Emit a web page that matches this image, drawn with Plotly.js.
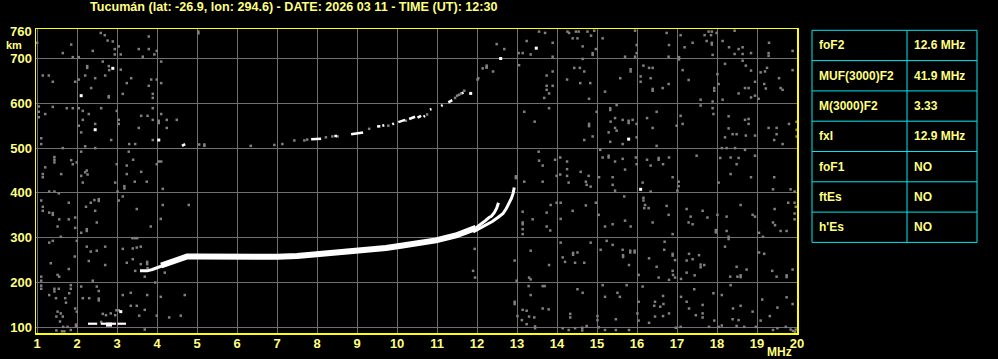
<!DOCTYPE html>
<html><head><meta charset="utf-8">
<script src="https://cdn.plot.ly/plotly-3.0.1.min.js"></script>
<style>html,body{margin:0;padding:0;background:#000;}#chart{width:998px;height:359px;}</style>
</head><body><div id="chart"></div>
<script>
// ---------- data ----------
const titleText = "Tucumán (lat: -26.9, lon: 294.6) - DATE: 2026 03 11 - TIME (UT): 12:30";
const freqTicks = [1,2,3,4,5,6,7,8,9,10,11,12,13,14,15,16,17,18,19,20];
const heightTicks = [100,200,300,400,500,600,700];

const tableLabels = ["foF2","MUF(3000)F2","M(3000)F2","fxI","foF1","ftEs","h'Es"];
const tableValues = ["12.6 MHz","41.9 MHz","3.33","12.9 MHz","NO","NO","NO"];

// F2 O-trace start (thin)
const f2StartF = [3.57,3.75,3.88,3.98,4.15];
const f2StartH = [226,226,229,233,238];
// F2 main body
const f2MainF = [4.10,4.35,4.55,4.75,5.0,5.5,6.0,6.5,7.0,7.5,8.05,8.5,8.97,9.4,9.72,10.1,10.5,10.97,11.47,11.8,11.97];
const f2MainH = [238,247,254,258,258,257.5,257,257,257.5,259,263,266,270,273,277,282,288,294,305,314,322];
// O branch near foF2
const oBranchF = [11.97,12.1,12.18,12.3,12.36,12.43,12.49,12.535];
const oBranchH = [322,330,336,345,348,356,366,378];
// X branch near fxI
const xBranchF = [11.9,12.1,12.25,12.38,12.52,12.65,12.73,12.8,12.86,12.9,12.93];
const xBranchH = [313,322,330,336,345,354,365,377,388,399,412];
// low echo near 108 km
const lowEchoF = [2.27,2.50,null,2.59,2.97,null,3.01,3.22];
const lowEchoH = [108,108,null,108,108,null,108,108];
const lowThickF = [2.72,2.87];
const lowThickH = [106,106];
// second-hop (2F) echo dashes
const hop2F = [4.62,4.70,null,7.85,8.10,null,8.43,8.50,null,8.85,9.15,null,9.50,9.58,null,9.63,9.68,null,9.88,9.92,null,10.03,10.20,null,10.30,10.45,null,10.51,10.60,null,10.66,10.70,null,10.82,10.86,null,11.10,11.14,null,11.28,11.38,null,11.62,11.66];
const hop2H = [505,509,null,520,521,null,527,527,null,531,535,null,548,549,null,550,551,null,553,555,null,558,563,null,565,570,null,568,572,null,570,572,null,586,587,null,594,596,null,602,607,null,622,624];

const whiteDots = [[2.89,678],[2.10,617],[2.45,541],[4.04,518],[15.79,520],[16.09,408],[3.09,135],[11.84,622],[12.59,700],[13.48,723]];

const grayNoise = [
[2.59,757],[2.69,752],[2.76,740],[2.89,738],[1.85,731],[2.39,717],[1.64,712],[1.89,703],[2.04,703],[2.94,721],[2.94,709],[3.09,709],[3.04,727],[3.64,704],[3.79,749],[3.54,721],[3.79,721],[3.93,709],[3.99,717],[5.03,760],[5.03,756],[1.0,735],
[2.64,693],[2.25,683],[2.25,679],[2.79,683],[2.80,674],[3.09,675],[4.10,693],[1.14,662],[1.29,662],[1.39,648],[1.95,648],[2.04,653],[2.20,662],[2.45,656],[2.70,662],[2.35,634],[3.24,645],[3.35,656],[3.85,653],[3.99,653],[4.10,645],[3.79,639],[3.89,621],[3.89,612],[3.14,621],[2.79,613],[2.79,616],
[1.04,593],[1.04,581],[1.04,569],[1.20,576],[1.39,592],[1.74,589],[1.89,589],[2.04,589],[2.14,583],[2.29,576],[2.14,563],[2.04,550],[2.10,535],[2.45,554],[2.60,589],[2.99,583],[3.04,563],[3.04,554],[3.60,572],[3.76,572],[3.89,589],[3.89,563],[4.04,561],[4.04,556],[4.10,576],[4.24,563],[4.49,563],[4.24,545],[3.54,545],[2.85,518],[3.30,509],[3.45,509],[3.89,518],[1.10,522],[1.10,509],[1.64,500],[2.20,504],[2.45,500],[2.10,492],[1.43,480],[1.43,474],[1.43,468],[1.85,473],[1.99,468],[1.89,464],[1.20,457],[1.14,442],[1.14,435],[1.60,442],[2.10,438],[2.20,446],[2.24,450],[2.26,441],[2.99,464],[3.24,461],[3.29,492],[3.40,474],[3.60,447],[3.24,442],[3.99,464],[4.04,470],[4.10,470],
[12.49,732],[12.68,721],[12.24,680],[12.14,678],[12.40,671],[13.04,712],[13.14,712],[13.34,709],[13.24,739],[13.55,760],[13.70,757],[13.89,735],[13.89,704],[13.05,685],[13.74,662],[13.89,671],[13.89,639],[13.74,639],[13.74,630],[13.80,622],[13.68,612],[14.26,760],[14.30,757],[14.47,760],[14.54,760],[14.39,745],[14.51,745],[14.64,727],[14.76,760],[14.85,751],[14.93,762],[14.97,721],[14.89,712],[14.89,708],[15.14,745],[14.64,699],[14.43,679],[14.57,679],[14.68,671],[14.25,653],[14.58,645],[14.83,645],[14.80,610],[15.20,626],[15.58,656],[15.84,676],[15.84,671],[15.70,704],[15.99,730],[15.99,712],[15.95,762],[15.95,704],[16.16,684],[16.30,679],[16.39,679],[16.09,660],[16.09,648],[16.34,656],[16.39,632],[16.39,628],[16.64,634],[16.79,643],[16.80,730],[16.79,704],[16.74,757],[17.09,752],[17.39,735],[17.14,674],[17.29,652],[17.05,703],[17.05,698],[17.19,725],[17.69,752],[17.79,760],[17.87,760],[17.85,752],[17.74,739],[17.87,735],[17.87,731],[17.99,757],[17.89,708],[18.14,739],[18.30,725],[18.44,762],[18.54,721],[18.64,725],[18.44,710],[18.64,710],[18.85,712],[18.64,695],[18.72,684],[18.85,673],[18.20,688],[18.01,665],[17.93,634],[17.93,628],[18.04,643],[18.14,608],[18.54,622],[18.70,634],[18.79,634],[18.95,648],[18.85,613],[18.95,617],[19.04,610],[19.18,643],[19.22,633],[19.09,669],[19.20,671],[19.25,679],[19.29,712],[19.29,706],[19.30,735],[19.55,656],[19.59,634],[19.64,630],[19.89,717],[19.89,674],
[17.59,608],[17.59,595],[17.89,604],[17.89,589],[17.91,576],[18.29,571],[18.29,544],[18.39,531],[18.49,531],[18.20,524],[18.70,563],[18.79,565],[18.79,554],[18.72,528],[18.95,528],[19.29,545],[19.49,545],[19.49,531],[19.43,518],[19.64,509],[19.80,554],[19.99,559],[19.99,541],[19.99,526],[18.12,500],[18.24,500],[18.45,500],[18.70,496],[18.95,483],[18.08,478],[18.34,479],[18.54,478],[18.49,464],[18.34,442],[18.85,435],[19.43,435],
[13.18,581],[13.44,559],[13.80,589],[14.80,554],[14.80,549],[14.89,526],[14.68,518],[14.99,581],[15.08,496],[15.33,589],[15.33,585],[15.49,596],[15.34,559],[15.45,567],[15.45,545],[15.49,539],[15.29,535],[15.33,514],[15.64,563],[15.79,561],[15.79,556],[15.89,563],[15.64,509],[15.99,554],[15.99,524],[16.25,567],[16.39,545],[16.49,581],[16.49,505],[17.14,554],[17.09,572],[16.99,550],[14.08,479],[14.25,470],[14.25,453],[14.25,438],[13.54,492],[13.55,472],[13.64,461],[13.95,474],[13.99,438],[14.08,441],[14.59,447],[14.79,438],[15.14,479],[15.29,483],[15.29,479],[15.45,470],[15.64,476],[15.70,452],[15.97,479],[15.99,464],[16.25,474],[16.34,461],[16.54,478],[16.54,474],[16.65,464],[16.80,479],[16.89,435],[17.49,483],[12.97,437],[12.97,433],[15.05,435],[15.39,435],
[2.14,423],[2.95,423],[3.18,415],[3.18,410],[3.44,425],[3.74,425],[4.14,409],[1.30,403],[1.43,403],[1.54,399],[3.01,403],[1.10,383],[1.79,378],[2.34,378],[2.43,384],[2.54,386],[2.54,382],[3.04,383],[3.14,392],[4.14,373],[4.79,373],[1.14,369],[1.14,360],[1.30,356],[1.39,355],[1.39,351],[1.55,341],[1.79,341],[1.95,345],[2.22,369],[2.45,360],[2.49,334],[1.95,322],[2.24,319],[2.24,315],[2.10,311],[1.51,325],[3.49,364],[3.84,325],[4.09,342],[1.59,302],[1.30,289],[1.39,293],[1.99,293],[2.24,280],[2.34,269],[2.49,271],[2.70,280],[3.14,275],[3.39,276],[3.49,278],[3.59,280],[3.38,299],[3.44,299],[3.50,299],[1.94,258],[2.29,248],[1.34,243],[1.79,230],[2.70,239],[3.24,244],[3.45,226],[3.39,252],[3.59,241],[3.75,246],[3.75,241],[3.76,232],[3.69,213],[4.19,222],[1.51,217],[1.55,213],[1.10,213],[1.10,204],[1.10,193],[1.10,186],[1.43,186],[1.43,180],[1.54,186],[1.84,194],[1.84,186],[1.80,176],[2.10,191],[2.39,204],[2.49,191],[2.54,181],[2.14,165],[2.30,165],[2.54,164],[2.54,160],[1.47,165],[1.70,165],[1.72,155],[1.30,172],[1.51,135],[1.48,124],[1.59,131],[1.64,124],[1.95,142],[1.99,135],[2.64,130],[2.72,127],[2.84,131],[2.95,127],[3.14,172],[3.34,177],[3.34,148],[3.49,148],[3.69,139],[3.75,172],[4.09,168],[3.95,200],[4.69,172],[3.55,126],[3.99,126],[4.30,122],[4.59,126],[1.57,113],[1.65,101],[1.76,101],[1.84,94],[1.62,91],[1.68,91],[1.48,93],[1.97,106],[1.97,102],[3.69,95],[2.98,138],[3.04,138],[2.6,112],
[13.18,425],[13.64,425],[14.29,423],[14.72,425],[14.74,418],[14.84,414],[15.39,418],[15.45,405],[16.14,423],[16.34,403],[17.04,425],[17.04,415],[17.01,405],[18.04,423],[19.40,408],[19.84,408],[19.94,403],[19.94,378],[19.78,378],[19.94,354],[19.94,341],[19.97,369],[13.14,358],[13.14,334],[13.14,330],[13.14,319],[13.14,308],[13.39,341],[13.74,356],[13.84,373],[13.99,378],[14.09,378],[14.09,342],[13.74,325],[13.83,316],[14.39,360],[14.72,372],[14.97,378],[15.04,351],[15.20,325],[15.39,330],[15.70,338],[15.84,325],[15.68,392],[16.16,389],[16.16,383],[16.20,373],[16.18,366],[16.29,366],[16.39,334],[16.74,371],[16.79,351],[16.89,308],[17.24,364],[17.34,347],[17.29,334],[17.39,330],[17.64,360],[17.76,345],[17.97,317],[17.97,312],[18.01,351],[18.24,347],[18.24,315],[18.29,302],[18.29,297],[18.59,373],[18.89,351],[18.95,347],[19.05,311],[19.15,302],[19.40,334],[19.45,328],[19.44,364],[19.59,315],[19.74,315],
[11.94,275],[12.94,249],[11.90,226],[11.95,211],[12.99,204],[13.34,271],[13.80,239],[14.09,289],[14.14,256],[14.20,246],[14.40,266],[14.40,262],[14.51,267],[14.45,244],[14.68,244],[14.84,289],[15.09,273],[15.24,293],[15.39,284],[15.64,273],[15.65,261],[15.65,257],[15.83,271],[15.83,267],[15.94,271],[15.94,267],[15.80,239],[16.04,217],[16.30,254],[16.49,235],[16.54,211],[16.69,291],[16.68,273],[16.89,264],[16.89,260],[16.95,250],[16.89,226],[16.90,217],[16.80,206],[16.95,211],[17.24,249],[17.24,222],[17.30,264],[17.39,252],[17.55,261],[17.59,240],[17.59,234],[17.68,239],[17.44,216],[17.10,208],[18.20,280],[18.33,213],[18.51,213],[18.49,235],[18.59,216],[18.59,212],[18.74,229],[19.05,267],[19.18,264],[19.38,226],[19.49,213],[19.74,216],[19.74,212],[19.89,229],
[13.30,211],[13.34,207],[13.29,192],[13.34,172],[13.64,192],[13.69,192],[14.51,185],[14.64,177],[15.14,194],[15.20,168],[15.51,177],[15.57,168],[15.74,194],[16.04,157],[16.14,191],[16.45,157],[16.43,148],[16.65,170],[16.66,152],[16.58,146],[17.10,168],[17.24,157],[17.30,142],[17.43,185],[17.64,150],[17.91,176],[18.12,172],[18.34,194],[18.59,148],[18.40,142],[19.13,162],[19.74,167],[19.89,152],[12.94,157],[12.94,152],[13.14,139],[13.24,137],[13.64,142],[13.79,140],[13.01,125],[13.12,116],[13.30,124],[13.43,122],[13.24,107],[13.45,102],[13.45,98],[14.14,98],[14.29,94],[14.33,130],[14.33,122],[14.45,98],[14.63,99],[14.63,93],[14.74,103],[15.01,125],[15.01,116],[15.04,100],[15.20,94],[15.47,118],[15.47,94],[15.80,94],[16.01,131],[16.04,115],[16.30,110],[16.45,124],[16.65,125],[16.80,131],[16.97,99],[17.09,101],[17.47,127],[17.64,131],[17.64,122],[17.80,101],[17.93,115],[18.04,101],[18.12,104],[18.39,118],[18.49,103],[18.54,116],[18.68,101],[18.89,135],[18.97,101],[19.09,115],[19.32,125],[19.40,94],[19.51,98],[19.72,101],[19.84,95],[19.97,95],[19.51,144],[19.95,90],[19.90,92],
[5.05,508],[5.18,508],[5.18,505],[6.34,505],[6.93,507],[7.13,509],[7.43,517],[7.68,517],[7.75,519],[8.22,524],[8.38,526],[8.51,526],[9.30,543],[9.78,550],[10.22,561],[10.75,575],[11.45,612],[11.50,617],[11.55,619],[11.60,622],[11.68,628],[12.01,653],[12.03,656],[12.24,680],[12.24,684]
];

// ---------- style / layout ----------
const W = 998, H = 359;
const M = {l:36, r:201, t:29, b:26};
const plotW = W - M.l - M.r, plotH = H - M.t - M.b;
const px2paperX = px => (px - M.l) / plotW;
const px2paperY = py => (H - M.b - py) / plotH;

const FONT = "Liberation Sans, Arial, Helvetica, sans-serif";
const TXT = "#ffff80";
const GRAY = "#808080";

function lineTrace(x, y, w){
  return {x:x, y:y, type:'scatter', mode:'lines', line:{color:'#ffffff', width:w}, connectgaps:false, hoverinfo:'skip'};
}

const traces = [
  {x: grayNoise.map(p=>p[0]), y: grayNoise.map(p=>p[1]), type:'scatter', mode:'markers',
   marker:{symbol:'square', size:2.5, color:GRAY, line:{width:0}}, hoverinfo:'skip'},
  lineTrace(hop2F, hop2H, 2.5),
  lineTrace(lowEchoF, lowEchoH, 2.2),
  lineTrace(lowThickF, lowThickH, 4),
  lineTrace(f2StartF, f2StartH, 3),
  lineTrace(f2MainF, f2MainH, 6),
  lineTrace(oBranchF, oBranchH, 3),
  lineTrace(xBranchF, xBranchH, 3),
  {x: whiteDots.map(p=>p[0]), y: whiteDots.map(p=>p[1]), type:'scatter', mode:'markers',
   marker:{symbol:'square', size:3, color:'#ffffff', line:{width:0}}, hoverinfo:'skip'}
];

// table geometry (pixels)
const tblLeft = 812, tblMid = 907, tblRight = 977, tblTop = 30.3, rowH = 30.3;
const shapes = [];
const annotations = [];
const CYAN = "#00e8ee";
for (let i = 0; i <= tableLabels.length; i++){
  const y = px2paperY(tblTop + i*rowH);
  shapes.push({type:'line', xref:'paper', yref:'paper', x0:px2paperX(tblLeft), x1:px2paperX(tblRight), y0:y, y1:y, line:{color:CYAN, width:1}});
}
[tblLeft, tblMid, tblRight].forEach(x => {
  shapes.push({type:'line', xref:'paper', yref:'paper', x0:px2paperX(x), x1:px2paperX(x),
    y0:px2paperY(tblTop), y1:px2paperY(tblTop + tableLabels.length*rowH), line:{color:CYAN, width:1}});
});
tableLabels.forEach((lab, i) => {
  const yc = px2paperY(tblTop + (i+0.5)*rowH);
  annotations.push({xref:'paper', yref:'paper', x:px2paperX(tblLeft+5), y:yc, xanchor:'left', yanchor:'middle',
    text:lab, showarrow:false, font:{family:FONT, size:12, color:TXT, weight:'bold'}});
  annotations.push({xref:'paper', yref:'paper', x:px2paperX(tblMid+5), y:yc, xanchor:'left', yanchor:'middle',
    text:tableValues[i], showarrow:false, font:{family:FONT, size:12, color:TXT, weight:'bold'}});
});
// axis extra labels
annotations.push({xref:'paper', yref:'y', x:0, y:760, xanchor:'right', yanchor:'middle', xshift:-3,
  text:'760', showarrow:false, borderpad:0, font:{family:FONT, size:13, color:TXT, weight:'bold'}});
annotations.push({xref:'paper', yref:'paper', x:px2paperX(14), y:px2paperY(45), xanchor:'center', yanchor:'middle',
  text:'km', showarrow:false, borderpad:0, font:{family:FONT, size:11, color:TXT, weight:'bold'}});
annotations.push({xref:'paper', yref:'paper', x:px2paperX(779), y:px2paperY(352), xanchor:'center', yanchor:'middle',
  text:'MHz', showarrow:false, borderpad:0, font:{family:FONT, size:12, color:TXT, weight:'bold'}});

const axisCommon = {
  showgrid:true, gridcolor:'#707070', gridwidth:1, zeroline:false,
  showline:true, linecolor:'#ffff00', linewidth:1.5, mirror:true,
  ticks:'', tickfont:{family:FONT, size:13, color:TXT, weight:'bold'},
  fixedrange:true, tickmode:'array'
};

const layout = {
  width:W, height:H, margin:M,
  paper_bgcolor:'#000000', plot_bgcolor:'#000000', showlegend:false,
  title:{text:titleText, font:{family:FONT, size:12.6, color:TXT, weight:'bold'},
         xref:'container', yref:'container', x:90/W, xanchor:'left', y:1-7/H, yanchor:'middle'},
  xaxis:Object.assign({}, axisCommon, {range:[0.97, 20.0], tickvals:freqTicks, ticktext:freqTicks.map(String), ticklabelstandoff:-2}),
  yaxis:Object.assign({}, axisCommon, {range:[87.3, 765.8], tickvals:heightTicks, ticktext:heightTicks.map(String), ticklabelstandoff:0}),
  shapes:shapes, annotations:annotations
};

Plotly.newPlot('chart', traces, layout, {displayModeBar:false, staticPlot:true});
</script></body></html>
